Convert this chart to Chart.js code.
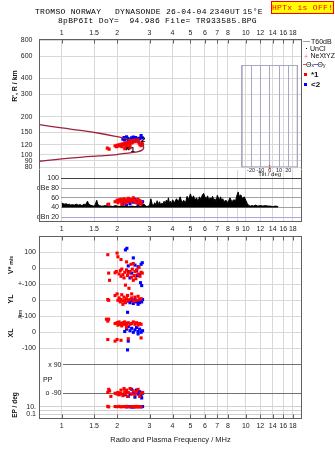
<!DOCTYPE html>
<html>
<head>
<meta charset="utf-8">
<script src="https://cdn.jsdelivr.net/npm/chart.js@4.4.1/dist/chart.umd.min.js"></script>
<style>
html, body { margin: 0; padding: 0; background: #fff; }
#page { position: relative; width: 335px; height: 451px; overflow: hidden; background: #fff; }
canvas { position: absolute; left: 0; }
.t { position: absolute; white-space: pre; font-family: "Liberation Sans", Arial, sans-serif; font-size: 7px; line-height: 1; color: #111; }
.mono { font-family: "Liberation Mono", monospace; font-size: 8px; letter-spacing: 0.3px; color: #000; }
.rot { transform: translate(-50%, -50%) rotate(-90deg); font-weight: bold; }
.sw { position: absolute; }
</style>
</head>
<body>
<div id="page">
  <canvas id="cA" width="335" height="175" style="top:0"></canvas>
  <canvas id="cB" width="335" height="72" style="top:165px"></canvas>
  <canvas id="cC" width="335" height="130" style="top:230px"></canvas>
  <canvas id="cD" width="335" height="56" style="top:350px"></canvas>
  <canvas id="cE" width="335" height="56" style="top:395px"></canvas>
  <canvas id="cT" width="75" height="125" style="top:55px;left:230px"></canvas>

  <div class="t mono" style="left:35px;top:8.3px">TROMSO NORWAY</div>
  <div class="t mono" style="left:115px;top:8.3px">DYNASONDE</div>
  <div class="t mono" style="left:166px;top:8.3px">26-04-04</div>
  <div class="t mono" style="left:209.5px;top:8.3px">2340UT</div>
  <div class="t mono" style="left:242.5px;top:8.3px">15°E</div>
  <div class="t mono" style="left:58px;top:16.8px">8pBP6It DoY=  94.986 File= TR933585.BPG</div>
  <div class="t mono" style="left:271px;top:1px;width:61px;height:11px;line-height:11px;background:#ffff00;border:1px solid #ff0000;color:#ff0000;text-align:center">HPTx is OFF!</div>

  <div class="t rot" style="left:14px;top:86px">R', R / km</div>
  <div class="t rot" style="left:10px;top:265px">V* <span style="font-size:5px">m/s</span></div>
  <div class="t rot" style="left:10px;top:299px">YL</div>
  <div class="t rot" style="left:21px;top:314px;font-size:5.5px;font-weight:normal">/km</div>
  <div class="t rot" style="left:10px;top:333px">XL</div>
  <div class="t rot" style="left:15px;top:405px;font-size:6.5px">EP / deg</div>
  <div class="t" style="left:43px;top:375.5px">PP</div>

  <div class="sw" style="left:303px;top:40.5px;width:7px;height:1px;background:#a0a0a0"></div>
  <div class="t" style="left:311px;top:37.5px">T60dB</div>
  <div class="sw" style="left:306px;top:47.5px;width:1px;height:1px;background:#000"></div>
  <div class="t" style="left:310px;top:44.8px">UnCl</div>
  <div class="t" style="left:304px;top:52.5px;color:#ff6090">+</div>
  <div class="t" style="left:310.5px;top:52.4px">NeXtYZ</div>
  <div class="sw" style="left:303px;top:63.5px;width:3px;height:1px;background:#ff4040"></div>
  <div class="t" style="left:306px;top:60.8px">Θ<span style="font-size:5px">x</span></div>
  <div class="sw" style="left:313.5px;top:63.5px;width:4px;height:1px;background:#6060ff"></div>
  <div class="t" style="left:317.5px;top:60.8px">Θ<span style="font-size:5px">y</span></div>
  <div class="sw" style="left:303.5px;top:73px;width:3px;height:3px;background:#ff0000"></div>
  <div class="t" style="left:311px;top:70.5px;font-size:8px;font-weight:bold">*1</div>
  <div class="sw" style="left:303.5px;top:83px;width:3px;height:3px;background:#0000ff"></div>
  <div class="t" style="left:311px;top:80.5px;font-size:8px;font-weight:bold">&lt;2</div>
</div>

<script>
// frequency axis and tick labels
const FREQ_TICKS = [1, 1.5, 2, 3, 4, 5, 6, 7, 8, 10, 12, 14, 16, 18];
const FREQ_TICKS_AMP = [1, 1.5, 2, 3, 4, 5, 6, 7, 8, 9, 10, 12, 14, 16, 18];
const RANGE_TICKS = [800, 600, 400, 300, 200, 150, 120, 100, 90, 80];
const AMP_TICKS = [100, 80, 60, 40, 20];
const AMP_LABELS = ['100', 'dBe 80', '60', '40', 'dBn 20'];
const VEL_TICKS = [100, 0, -100, -200, -300, -400, -500];
const VEL_LABELS = ['100', '0', '+-100', '0', '+-100', '0', '-100'];
const PP_TICKS = [90, -90];
const PP_LABELS = ['x 90', 'o -90'];
const EP_TICKS = [10, 1, 0.1];
const EP_LABELS = ['10.', '', '0.1'];
const TILT_TICKS = [-30, -20, -10, 0, 10, 20, 30];

// range panel: model trace (f MHz, km) and echoes
const RANGE_MODEL = [[0.757, 173], [1.0, 163], [1.3, 155], [1.6, 148], [2.0, 139], [2.3, 133], [2.5, 130],
  [2.65, 125], [2.76, 118], [2.79, 113.5], [2.73, 109], [2.6, 106], [2.4, 104], [2.2, 102.5], [2.0, 100.5],
  [1.6, 98], [1.3, 96], [1.0, 93], [0.757, 89]];
const RANGE_MODE1 = [[1.77, 113], [1.81, 111], [1.95, 118], [1.98, 116], [2.0, 119], [2.02, 117], [2.05, 120],
  [2.08, 118], [2.1, 121], [2.12, 116], [2.15, 122], [2.17, 119], [2.2, 124], [2.22, 120], [2.25, 118],
  [2.27, 125], [2.3, 122], [2.33, 127], [2.35, 121], [2.38, 128], [2.4, 124], [2.43, 126], [2.46, 130],
  [2.5, 127], [2.53, 131], [2.56, 129], [2.6, 127], [2.63, 124], [2.66, 120], [2.7, 118], [2.73, 126],
  [2.75, 121], [2.2, 112], [2.35, 114], [2.6, 131]];
const RANGE_MODE2 = [[2.15, 133], [2.18, 137], [2.2, 131], [2.25, 139], [2.28, 135], [2.35, 133], [2.4, 136],
  [2.45, 138], [2.48, 134], [2.52, 137], [2.55, 133], [2.6, 130], [2.65, 135], [2.7, 142], [2.74, 136], [2.3, 132]];
const RANGE_MARKS = [[2.28, 113], [2.6, 134]];

// amplitude panel (dB)
const AMP_TRACE = [[1.0, 49], [1.02, 48], [1.04, 47], [1.06, 48], [1.08, 46], [1.1, 47], [1.12, 45], [1.14, 46],
  [1.17, 45], [1.2, 47], [1.23, 45], [1.26, 46], [1.29, 44], [1.32, 47], [1.35, 46], [1.38, 53], [1.4, 48],
  [1.43, 45], [1.46, 44], [1.49, 43], [1.52, 46], [1.55, 55], [1.57, 47], [1.6, 44], [1.64, 43], [1.68, 43],
  [1.72, 44], [1.76, 43], [1.8, 42], [1.85, 43], [1.9, 42], [1.95, 44], [2.0, 43], [2.1, 42], [2.2, 43],
  [2.3, 42], [2.4, 43], [2.5, 42], [2.6, 43], [2.7, 42], [2.8, 47], [2.85, 44], [2.9, 42], [2.95, 43],
  [3.0, 44], [3.05, 58], [3.1, 47], [3.15, 44], [3.2, 50], [3.25, 45], [3.3, 54], [3.35, 46], [3.4, 52],
  [3.45, 45], [3.5, 49], [3.55, 47], [3.6, 53], [3.65, 48], [3.7, 55], [3.75, 50], [3.8, 60], [3.85, 48],
  [3.9, 53], [3.95, 47], [4.0, 56], [4.1, 50], [4.2, 58], [4.3, 52], [4.4, 62], [4.5, 50], [4.6, 55],
  [4.7, 49], [4.8, 63], [4.9, 56], [5.0, 68], [5.1, 58], [5.2, 64], [5.3, 55], [5.4, 60], [5.5, 52],
  [5.6, 62], [5.7, 57], [5.8, 65], [5.9, 69], [6.0, 62], [6.1, 58], [6.2, 64], [6.3, 55], [6.4, 60],
  [6.5, 57], [6.6, 63], [6.7, 55], [6.8, 58], [6.9, 52], [7.0, 65], [7.1, 60], [7.2, 56], [7.3, 62],
  [7.4, 54], [7.5, 58], [7.6, 52], [7.8, 55], [8.0, 50], [8.2, 60], [8.4, 52], [8.6, 56], [8.8, 54],
  [9.0, 68], [9.1, 72], [9.2, 63], [9.4, 66], [9.6, 58], [9.8, 62], [10.0, 55], [10.2, 48], [10.4, 44],
  [10.6, 43], [10.8, 44], [11.0, 43], [11.3, 45], [11.6, 43], [12.0, 44], [12.4, 43], [12.8, 44],
  [13.2, 43], [13.6, 43], [14.0, 42], [14.5, 43], [15.0, 42]];
const AMP_MODE1 = [[1.78, 46], [1.8, 47], [1.95, 52], [2.0, 55], [2.02, 50], [2.05, 56], [2.08, 53], [2.1, 57],
  [2.12, 51], [2.15, 55], [2.18, 58], [2.2, 54], [2.22, 49], [2.25, 56], [2.28, 52], [2.3, 59], [2.32, 55],
  [2.35, 57], [2.38, 53], [2.4, 56], [2.45, 60], [2.48, 52], [2.5, 55], [2.55, 50], [2.6, 57], [2.63, 48],
  [2.66, 54], [2.7, 51], [2.73, 46], [2.12, 46]];
const AMP_MODE2 = [[2.15, 47], [2.2, 50], [2.25, 45], [2.3, 52], [2.35, 48], [2.4, 55], [2.45, 51], [2.5, 57],
  [2.55, 53], [2.6, 46], [2.65, 50], [2.7, 48], [2.75, 52]];

// velocity panel (V*, YL offset -200, XL offset -400)
const VEL_MODE1 = [[1.78, 85], [1.8, -30], [1.82, -75], [1.95, -28], [1.98, -20], [2.0, 95], [2.02, 72],
  [2.05, -35], [2.08, -15], [2.1, -50], [2.12, -5], [2.15, -40], [2.18, -60], [2.2, -25], [2.22, -105],
  [2.25, -10], [2.28, -45], [2.3, -30], [2.32, -125], [2.35, -20], [2.38, 25], [2.4, -55], [2.42, -5],
  [2.45, 30], [2.48, -45], [2.5, -20], [2.53, -65], [2.56, -10], [2.6, -35], [2.63, 5], [2.66, -50],
  [2.7, -25], [2.74, -30], [2.1, 55], [2.25, 40], [2.45, -75],
  [1.78, -195], [1.8, -200], [1.95, -170], [2.0, -160], [2.02, -200], [2.05, -185], [2.08, -210],
  [2.1, -195], [2.12, -165], [2.15, -205], [2.18, -180], [2.2, -200], [2.22, -215], [2.25, -190],
  [2.28, -170], [2.3, -200], [2.35, -195], [2.4, -185], [2.45, -205], [2.5, -180], [2.55, -200],
  [2.6, -175], [2.65, -195], [2.7, -190], [2.15, -225], [2.4, -160],
  [1.75, -318], [1.8, -318], [1.78, -330], [1.95, -345], [2.0, -340], [2.02, -355], [2.05, -335],
  [2.08, -350], [2.1, -345], [2.12, -360], [2.15, -340], [2.18, -350], [2.2, -335], [2.22, -345],
  [2.25, -355], [2.3, -340], [2.35, -350], [2.4, -345], [2.45, -335], [2.5, -350], [2.55, -340],
  [2.6, -355], [2.65, -345], [2.7, -350], [1.78, -445], [1.95, -455], [2.0, -445], [2.1, -450],
  [2.3, -440], [2.7, -435], [2.25, -370]];
const VEL_MODE2 = [[2.22, 115], [2.26, 125], [2.3, -20], [2.35, -60], [2.4, -30], [2.45, 65], [2.5, 20],
  [2.55, -15], [2.6, 10], [2.65, -40], [2.68, -90], [2.7, 25], [2.74, 35], [2.58, -45], [2.3, 15], [2.72, -108],
  [2.3, -205], [2.35, -215], [2.4, -200], [2.45, -220], [2.5, -195], [2.55, -210], [2.6, -205], [2.65, -215],
  [2.7, -200], [2.75, -195], [2.28, -275], [2.6, -225], [2.72, -210],
  [2.2, -395], [2.25, -380], [2.3, -365], [2.35, -390], [2.4, -375], [2.45, -400], [2.5, -385], [2.55, -370],
  [2.6, -395], [2.65, -380], [2.7, -400], [2.75, -390], [2.3, -455], [2.28, -510], [2.6, -410]];

// polarization (deg) and EP (deg)
const PP_MODE1 = [[1.78, -85], [1.8, -65], [1.82, -75], [1.85, -110], [1.95, -90], [2.0, -95], [2.02, -85],
  [2.05, -100], [2.08, -90], [2.1, -70], [2.12, -95], [2.15, -105], [2.18, -60], [2.2, -80], [2.22, -95],
  [2.25, -70], [2.28, -110], [2.3, -85], [2.35, -60], [2.4, -95], [2.45, -75], [2.5, -100], [2.55, -80],
  [2.6, -65], [2.65, -110], [2.7, -90], [2.75, -85]];
const PP_MODE2 = [[2.2, -100], [2.25, -85], [2.3, -110], [2.35, -95], [2.4, -65], [2.45, -90], [2.5, -115],
  [2.55, -70], [2.6, -95], [2.65, -80], [2.7, -105], [2.75, -90], [2.72, -120]];
const EP_MODE1 = [[1.78, 12], [1.8, 9], [1.95, 11], [2.0, 10], [2.05, 12], [2.1, 9], [2.15, 11], [2.2, 10],
  [2.25, 12], [2.3, 10], [2.4, 11], [2.45, 9], [2.5, 10], [2.55, 12], [2.6, 9], [2.65, 11], [2.7, 10]];
const EP_MODE2 = [[2.25, 9], [2.3, 11], [2.35, 10], [2.4, 8], [2.45, 10], [2.5, 9], [2.55, 11], [2.6, 10],
  [2.7, 9], [2.75, 11]];

// tilt inset (deg)
const TILT_DEG = 0;

Chart.defaults.font.family = '"Liberation Sans", Arial, sans-serif';
Chart.defaults.font.size = 7;
Chart.defaults.color = '#222';

const F_MAX = 20.2;
const GRID = '#d8d8d8';
const FRAME = '#606060';

const pts = arr => arr.map(([x, y]) => ({ x, y }));
const red = data => ({ data: pts(data), pointStyle: 'rect', pointRadius: 2.2, borderWidth: 0, backgroundColor: '#ff0000' });
const blue = data => ({ data: pts(data), pointStyle: 'rect', pointRadius: 2.2, borderWidth: 0, backgroundColor: '#0000ff' });

const framePlugin = {
    id: 'frame',
    afterDatasetsDraw(chart, args, o) {
        const { ctx, chartArea: a, scales } = chart;
        const x0 = (o.left !== undefined ? o.left : a.left) + 0.5;
        const x1 = a.right - 0.5;
        const y0 = a.top + 0.5;
        const y1 = a.bottom - 0.5;
        ctx.save();
        ctx.strokeStyle = o.color || FRAME;
        ctx.lineWidth = 1;
        ctx.beginPath();
        if (o.top) { ctx.moveTo(x0 - 0.5, y0); ctx.lineTo(x1 + 0.5, y0); }
        if (o.bottom) { ctx.moveTo(x0 - 0.5, y1); ctx.lineTo(x1 + 0.5, y1); }
        if (o.leftSide) { ctx.moveTo(x0, a.top); ctx.lineTo(x0, a.bottom); }
        if (o.right) { ctx.moveTo(x1, a.top); ctx.lineTo(x1, a.bottom); }
        if (o.ticks) {
            scales.x.ticks.forEach(t => {
                const px = Math.round(scales.x.getPixelForValue(t.value)) + 0.5;
                const y = o.ticks === 'top' ? y0 : y1;
                const d = o.ticks === 'top' ? 4 : -4;
                ctx.moveTo(px, y);
                ctx.lineTo(px, y + d);
            });
        }
        ctx.stroke();
        ctx.restore();
    }
};

const tagPlugin = {
    id: 'tags',
    afterDatasetsDraw(chart) {
        const ctx = chart.ctx;
        chart.data.datasets.forEach((ds, i) => {
            if (!ds.tags) return;
            ctx.save();
            ctx.fillStyle = '#000';
            ctx.font = 'bold 8px "Liberation Sans", Arial';
            ctx.textBaseline = 'middle';
            chart.getDatasetMeta(i).data.forEach((pt, j) => ctx.fillText(ds.tags[j], pt.x + 3, pt.y + 1.5));
            ctx.restore();
        });
    }
};

function noPad(s) {
    s.paddingTop = 0; s.paddingBottom = 0; s.paddingLeft = 0; s.paddingRight = 0;
}

function freqAxis(min, position, height, ticks, showLabels, title) {
    return {
        type: 'logarithmic',
        position,
        min,
        max: F_MAX,
        bounds: 'data',
        afterBuildTicks: s => { s.ticks = ticks.map(v => ({ value: v })); },
        afterFit: s => { s.height = height; noPad(s); },
        border: { display: false },
        grid: { color: GRID, drawTicks: false },
        ticks: { display: showLabels, autoSkip: false, maxRotation: 0, minRotation: 0, padding: position === 'top' ? 2 : 2.5,
            callback: v => String(v) },
        title: title
            ? { display: true, text: title, color: '#222', font: { size: 7.5 }, padding: { top: 0, bottom: 7 } }
            : { display: false }
    };
}

function valueAxis(type, min, max, width, ticks, labels, padding, gridColor) {
    return {
        type,
        min,
        max,
        bounds: 'data',
        afterBuildTicks: s => { s.ticks = ticks.map(v => ({ value: v })); },
        afterFit: s => { s.width = width; noPad(s); },
        border: { display: false },
        grid: { color: gridColor, drawTicks: false },
        ticks: { autoSkip: false, padding, callback: (v, i) => labels[i] }
    };
}

function baseOptions(padding, frame, scales) {
    return {
        responsive: false,
        animation: false,
        layout: { padding },
        plugins: { legend: { display: false }, tooltip: { enabled: false }, frame },
        scales
    };
}

// range panel
new Chart(document.getElementById('cA'), {
    type: 'scatter',
    data: {
        datasets: [
            { data: pts(RANGE_MODEL), showLine: true, tension: 0.4, borderColor: '#a0203c', borderWidth: 1.3, pointRadius: 0 },
            red(RANGE_MODE1),
            blue(RANGE_MODE2),
            { data: pts(RANGE_MARKS), pointStyle: 'crossRot', pointRadius: 2.5, borderColor: '#000', borderWidth: 1.5, tags: ['1', '2'] }
        ]
    },
    options: baseOptions({ top: 0, bottom: 5, left: 0, right: 33 },
        { top: true, leftSide: true, right: true, ticks: 'top' },
        {
            x: freqAxis(0.753, 'top', 39, FREQ_TICKS, true),
            y: valueAxis('logarithmic', 76.6, 821, 39, RANGE_TICKS, RANGE_TICKS.map(String), 6.5, GRID)
        }),
    plugins: [framePlugin, tagPlugin]
});

// amplitude panel
const ampGrid = c => {
    const v = c.tick ? c.tick.value : 0;
    if (v === 100) return '#404040';
    if (v === 20) return '#a8a8e8';
    return '#a0a0a0';
};
new Chart(document.getElementById('cB'), {
    type: 'scatter',
    data: {
        datasets: [
            { data: pts(AMP_TRACE), showLine: true, borderColor: '#000', borderWidth: 1, pointRadius: 0,
              fill: { value: 40 }, backgroundColor: '#000' },
            red(AMP_MODE1),
            blue(AMP_MODE2)
        ]
    },
    options: baseOptions({ top: 5, bottom: 1, left: 0, right: 33 },
        { left: 39, leftSide: true, right: true, bottom: true },
        {
            x: freqAxis(0.9913, 'bottom', 14, FREQ_TICKS_AMP, true),
            y: valueAxis('linear', 10.4, 117, 61, AMP_TICKS, AMP_LABELS, 2, ampGrid)
        }),
    plugins: [framePlugin]
});

// velocity panel
new Chart(document.getElementById('cC'), {
    type: 'scatter',
    data: { datasets: [red(VEL_MODE1), blue(VEL_MODE2)] },
    options: baseOptions({ top: 6, bottom: 4, left: 0, right: 33 },
        { top: true, leftSide: true, right: true, ticks: 'top' },
        {
            x: freqAxis(0.753, 'bottom', 0, FREQ_TICKS, false),
            y: valueAxis('linear', -548.1, 201.9, 39, VEL_TICKS, VEL_LABELS, 3, GRID)
        }),
    plugins: [framePlugin]
});

// polarization panel
new Chart(document.getElementById('cD'), {
    type: 'scatter',
    data: { datasets: [red(PP_MODE1), blue(PP_MODE2)] },
    options: baseOptions({ top: 6, bottom: 5, left: 0, right: 33 },
        { left: 39, leftSide: true, right: true },
        {
            x: freqAxis(1.0164, 'bottom', 0, FREQ_TICKS, false),
            y: valueAxis('linear', -139.3, 147.3, 63, PP_TICKS, PP_LABELS, 1.5, '#707070')
        }),
    plugins: [framePlugin]
});

// EP panel with frequency axis
new Chart(document.getElementById('cE'), {
    type: 'scatter',
    data: { datasets: [red(EP_MODE1), blue(EP_MODE2)] },
    options: baseOptions({ top: 6, bottom: 0, left: 0, right: 33 },
        { leftSide: true, right: true, bottom: true, ticks: 'bottom' },
        {
            x: freqAxis(0.753, 'bottom', 32, FREQ_TICKS, true, 'Radio and Plasma Frequency / MHz'),
            y: valueAxis('logarithmic', 0.0058, 316, 39, EP_TICKS, EP_LABELS, 3, '#d0d0d0')
        }),
    plugins: [framePlugin]
});

// tilt inset
new Chart(document.getElementById('cT'), {
    type: 'scatter',
    data: {
        datasets: [{ data: [{ x: TILT_DEG, y: -0.02 }, { x: TILT_DEG, y: 0.022 }], showLine: true,
            borderColor: '#ff0000', borderWidth: 1, pointRadius: 0, clip: false }]
    },
    options: baseOptions({ top: 10, bottom: 0, left: 11.7, right: 7.3 },
        { top: true, bottom: true, leftSide: true, right: true, color: '#a8a8c4' },
        {
            x: {
                type: 'linear', min: -30, max: 30, bounds: 'data',
                afterBuildTicks: s => { s.ticks = TILT_TICKS.map(v => ({ value: v })); },
                afterFit: s => { s.height = 12.7; noPad(s); },
                border: { display: false },
                grid: { color: '#a8a8c4', drawTicks: false },
                ticks: { autoSkip: false, maxRotation: 0, padding: 0, font: { size: 5.5 },
                    callback: v => (Math.abs(v) < 30 ? String(v) : '') },
                title: { display: true, text: 'Tilt / deg', color: '#222', font: { size: 6 }, padding: { top: 0, bottom: 2 } }
            },
            y: { type: 'linear', display: false, min: 0, max: 1 }
        }),
    plugins: [framePlugin]
});
</script>
</body>
</html>
